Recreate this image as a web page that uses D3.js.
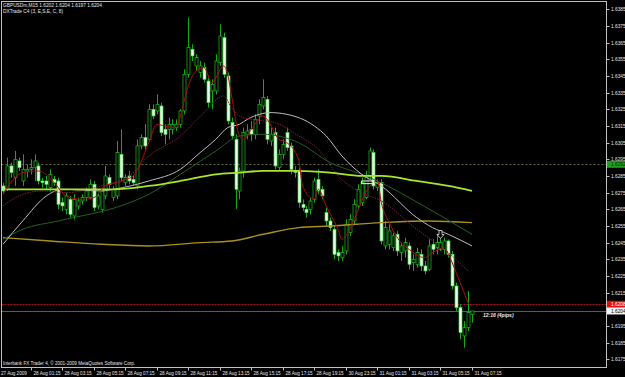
<!DOCTYPE html>
<html lang="en">
<head>
<meta charset="UTF-8">
<title>GBPUSDm,M15</title>
<style>
  body { margin: 0; background: #000; }
  svg { display: block; }
  text { font-family: "Liberation Sans", Arial, sans-serif; }
</style>
</head>
<body>
<svg id="chart" width="625" height="377"></svg>
<script src="https://d3js.org/d3.v7.min.js"></script>
<script>

// M15 bars
var opens = [1.6279,1.6277,1.6291,1.6284,1.6294,1.6282,1.6288,1.6289,1.6290,1.6291,
  1.6282,1.6282,1.6278,1.6283,1.6282,1.6269,1.6265,1.6271,1.6261,1.6267,
  1.6270,1.6272,1.6272,1.6280,1.6267,1.6265,1.6273,1.6284,1.6272,1.6273,
  1.6298,1.6281,1.6285,1.6283,1.6279,1.6303,1.6308,1.6307,1.6325,1.6324,
  1.6327,1.6313,1.6313,1.6313,1.6314,1.6316,1.6324,1.6346,1.6361,1.6351,
  1.6347,1.6350,1.6342,1.6336,1.6336,1.6353,1.6368,1.6345,1.6317,1.6307,
  1.6276,1.6288,1.6310,1.6313,1.6310,1.6321,1.6327,1.6331,1.6306,1.6311,
  1.6290,1.6298,1.6311,1.6303,1.6288,1.6288,1.6268,1.6265,1.6265,1.6271,
  1.6283,1.6277,1.6263,1.6258,1.6253,1.6239,1.6236,1.6240,1.6251,1.6258,
  1.6267,1.6269,1.6272,1.6285,1.6299,1.6278,1.6281,1.6243,1.6244,1.6242,
  1.6250,1.6239,1.6240,1.6243,1.6233,1.6232,1.6238,1.6231,1.6229,1.6244,
  1.6242,1.6241,1.6241,1.6246,1.6238,1.6219,1.6206,1.6189,1.6194,1.6202];
var highs = [1.6281,1.6296,1.6293,1.6300,1.6296,1.6298,1.6292,1.6295,1.6298,1.6293,
  1.6284,1.6285,1.6289,1.6285,1.6284,1.6272,1.6275,1.6273,1.6274,1.6272,
  1.6274,1.6278,1.6283,1.6282,1.6275,1.6278,1.6291,1.6286,1.6279,1.6306,
  1.6313,1.6286,1.6288,1.6285,1.6307,1.6310,1.6316,1.6328,1.6328,1.6334,
  1.6329,1.6316,1.6320,1.6319,1.6319,1.6325,1.6349,1.6380,1.6364,1.6358,
  1.6354,1.6353,1.6344,1.6343,1.6358,1.6376,1.6371,1.6347,1.6320,1.6310,
  1.6290,1.6314,1.6316,1.6318,1.6322,1.6331,1.6343,1.6333,1.6314,1.6314,
  1.6301,1.6307,1.6314,1.6305,1.6291,1.6290,1.6271,1.6267,1.6272,1.6284,
  1.6289,1.6279,1.6266,1.6260,1.6255,1.6241,1.6243,1.6259,1.6262,1.6271,
  1.6280,1.6284,1.6288,1.6302,1.6301,1.6283,1.6283,1.6258,1.6256,1.6251,
  1.6252,1.6245,1.6248,1.6245,1.6238,1.6242,1.6241,1.6234,1.6247,1.6247,
  1.6250,1.6251,1.6248,1.6247,1.6240,1.6221,1.6208,1.6198,1.6216,1.6204];
var lows = [1.6274,1.6276,1.6284,1.6279,1.6288,1.6279,1.6284,1.6286,1.6282,1.6280,
  1.6278,1.6277,1.6276,1.6279,1.6265,1.6264,1.6262,1.6260,1.6259,1.6265,
  1.6268,1.6270,1.6271,1.6264,1.6265,1.6263,1.6271,1.6277,1.6270,1.6271,
  1.6282,1.6279,1.6280,1.6279,1.6277,1.6301,1.6301,1.6306,1.6319,1.6322,
  1.6309,1.6304,1.6307,1.6310,1.6312,1.6314,1.6322,1.6344,1.6354,1.6348,
  1.6344,1.6341,1.6326,1.6325,1.6334,1.6351,1.6344,1.6316,1.6307,1.6265,
  1.6271,1.6284,1.6307,1.6306,1.6307,1.6316,1.6325,1.6304,1.6303,1.6289,
  1.6288,1.6295,1.6300,1.6286,1.6284,1.6266,1.6264,1.6260,1.6262,1.6269,
  1.6274,1.6271,1.6255,1.6252,1.6235,1.6234,1.6234,1.6238,1.6249,1.6256,
  1.6265,1.6267,1.6271,1.6283,1.6277,1.6276,1.6244,1.6241,1.6241,1.6240,
  1.6237,1.6234,1.6236,1.6229,1.6228,1.6230,1.6228,1.6226,1.6228,1.6238,
  1.6238,1.6240,1.6238,1.6236,1.6217,1.6204,1.6187,1.6182,1.6192,1.6197];
var closes = [1.6276,1.6291,1.6287,1.6295,1.6290,1.6289,1.6289,1.6290,1.6294,1.6282,
  1.6281,1.6280,1.6286,1.6281,1.6268,1.6267,1.6273,1.6262,1.6271,1.6270,
  1.6272,1.6276,1.6280,1.6266,1.6273,1.6276,1.6285,1.6280,1.6277,1.6299,
  1.6284,1.6284,1.6282,1.6281,1.6303,1.6308,1.6303,1.6325,1.6321,1.6328,
  1.6311,1.6310,1.6316,1.6316,1.6316,1.6324,1.6346,1.6362,1.6357,1.6356,
  1.6351,1.6343,1.6329,1.6340,1.6354,1.6369,1.6346,1.6318,1.6309,1.6277,
  1.6288,1.6311,1.6312,1.6310,1.6319,1.6328,1.6332,1.6307,1.6310,1.6291,
  1.6298,1.6304,1.6302,1.6289,1.6287,1.6269,1.6266,1.6263,1.6270,1.6282,
  1.6276,1.6273,1.6258,1.6254,1.6238,1.6237,1.6239,1.6256,1.6259,1.6268,
  1.6277,1.6281,1.6284,1.6300,1.6279,1.6281,1.6246,1.6254,1.6252,1.6249,
  1.6240,1.6243,1.6245,1.6232,1.6235,1.6239,1.6231,1.6228,1.6243,1.6241,
  1.6245,1.6245,1.6246,1.6238,1.6219,1.6206,1.6191,1.6194,1.6203,1.6204];

// moving averages, [bar, price] samples
var maFast = [[0,1.6274],[3,1.6284],[5,1.6287],[9,1.6288],[13,1.6281],[16,1.6273],[20,1.6271],[23,1.6272],
  [26,1.6279],[30,1.6282],[33,1.6285],[37,1.6305],[39,1.6316],[41,1.6315],[44,1.6314],[45,1.6321],
  [47,1.6339],[49,1.6348],[51,1.6350],[53,1.6341],[56,1.6351],[57,1.6346],[58,1.6333],[60,1.6309],
  [61,1.6307],[63,1.6313],[66,1.6321],[67,1.6319],[70,1.6307],[72,1.6305],[75,1.6295],[76,1.6279],
  [79,1.6271],[80,1.6277],[82,1.6267],[85,1.6253],[86,1.6247],[88,1.6253],[90,1.6264],[92,1.6275],
  [94,1.6281],[95,1.6282],[96,1.6269],[98,1.6257],[101,1.6245],[103,1.6241],[107,1.6236],[109,1.6239],
  [112,1.6242],[113,1.6238],[115,1.6227],[117,1.6215],[118,1.6209],[119,1.6207]];
var maSlow = [[0,1.6267],[4,1.6273],[10,1.6276],[16,1.6275],[25,1.6279],[31,1.6283],[37,1.6297],
  [45,1.6309],[51,1.6323],[56,1.6333],[58,1.6326],[60,1.6321],[63,1.6319],[69,1.6317],[75,1.6309],
  [80,1.6301],[85,1.6285],[91,1.6275],[96,1.6270],[105,1.6253],[113,1.6239],[118,1.6228]];
var maWhite = [[0,1.6244],[5,1.6258],[11,1.6273],[15,1.6277],[25,1.6276],[28,1.6277],[37,1.6282],
  [45,1.6289],[50,1.6299],[54,1.6307],[57,1.6314],[60,1.6316],[62,1.6319],[68,1.6323],[72,1.6322],
  [79,1.6315],[82,1.6309],[86,1.6297],[91,1.6286],[96,1.6279],[105,1.6260],[109,1.6254],[113,1.6250],[119,1.6243]];
var maGreen = [[0,1.6247],[5,1.6253],[14,1.6258],[31,1.6268],[37,1.6274],[45,1.6286],[54,1.6300],
  [60,1.6309],[66,1.6310],[75,1.6305],[83,1.6293],[91,1.6286],[95,1.6282],[106,1.6268],[119,1.6250]];
var maLong = [[0,1.6277],[14,1.6277],[28,1.6277],[37,1.6279],[45,1.6282],[54,1.6286],[60,1.6287],
  [66,1.6288],[75,1.6288],[83,1.6287],[91,1.6285],[96,1.6285],[105,1.6282],[113,1.6279],[119,1.6276]];
var maOlive = [[0,1.6248],[12,1.6246],[25,1.6244],[37,1.6243],[50,1.6245],[58,1.6246],[66,1.6250],
  [75,1.6254],[83,1.6255],[96,1.6257],[108,1.6258],[119,1.6257]];

var priceTicks = [1.6385,1.6375,1.6365,1.6355,1.6345,1.6335,1.6325,1.6315,1.6305,1.6295,1.6285,
  1.6275,1.6265,1.6255,1.6245,1.6235,1.6225,1.6215,1.6205,1.6195,1.6185,1.6175];
var timeTickBars = [0,7,15,23,31,39,47,55,63,71,79,87,95,103,111,119];
var timeTickLabels = ["27 Aug 2009","28 Aug 01:15","28 Aug 03:15","28 Aug 05:15","28 Aug 07:15",
  "28 Aug 09:15","28 Aug 11:15","28 Aug 13:15","28 Aug 15:15","28 Aug 17:15","28 Aug 19:15",
  "30 Aug 23:15","31 Aug 01:15","31 Aug 03:15","31 Aug 05:15","31 Aug 07:15"];

var levelPrices = [1.6292, 1.6208, 1.6204];
var levelLabels = ["1.6292", "1.6208", "1.6204"];

var svg = d3.select("#chart"),
    W = 625, H = 377,
    plotRight = 606.5, plotBottom = 367.5;

var x = d3.scaleLinear().domain([0, closes.length - 1]).range([3, 472]),
    y = d3.scaleLinear().domain([1.6175, 1.6385]).range([359.3, 9.3]);

svg.append("rect").attr("width", W).attr("height", H).attr("fill", "#000");

// horizontal price levels
var levelStyle = [
  {stroke: "#5f6a3c", dash: "2,2"},
  {stroke: "#a81414", dash: "2,1"},
  {stroke: "#5c5c5c", dash: null}
];
levelPrices.forEach(function (p, i) {
  svg.append("line")
    .attr("x1", 1.5).attr("x2", plotRight)
    .attr("y1", Math.round(y(p)) + 0.5).attr("y2", Math.round(y(p)) + 0.5)
    .attr("stroke", levelStyle[i].stroke)
    .attr("stroke-width", 1)
    .attr("stroke-dasharray", levelStyle[i].dash);
});

// candles
var bars = d3.range(closes.length);
var gC = svg.append("g");
gC.selectAll("line.wick").data(bars).enter().append("line")
  .attr("x1", function (i) { return Math.round(x(i)) + 0.5; })
  .attr("x2", function (i) { return Math.round(x(i)) + 0.5; })
  .attr("y1", function (i) { return y(highs[i]); })
  .attr("y2", function (i) { return y(lows[i]); })
  .attr("stroke", "#18a818").attr("stroke-width", 1);
gC.selectAll("rect.body").data(bars).enter().append("rect")
  .attr("x", function (i) { return Math.round(x(i)) - 1; })
  .attr("width", 3)
  .attr("y", function (i) { return y(Math.max(opens[i], closes[i])); })
  .attr("height", function (i) { return Math.max(1, Math.abs(y(opens[i]) - y(closes[i]))); })
  .attr("fill", function (i) { return closes[i] >= opens[i] ? "#000" : "#eaffea"; })
  .attr("stroke", function (i) { return closes[i] >= opens[i] ? "#1cc01c" : "#44d044"; })
  .attr("stroke-width", 0.7);

// moving averages
var line = d3.line()
  .x(function (d) { return x(d[0]); })
  .y(function (d) { return y(d[1]); })
  .curve(d3.curveMonotoneX);

function drawMa(data, color, width, dash) {
  svg.append("path").datum(data)
    .attr("d", line)
    .attr("fill", "none")
    .attr("stroke", color)
    .attr("stroke-width", width)
    .attr("stroke-dasharray", dash || null);
}
drawMa(maOlive, "#a89020", 1.4);
drawMa(maGreen, "#245f24", 1);
drawMa(maWhite, "#bcbcbc", 1);
drawMa(maSlow, "#7a2038", 1, "1.5,1");
drawMa(maLong, "#a8e628", 1.8);
drawMa(maFast, "#b00c0c", 1);

// white box and arrow objects
svg.append("rect")
  .attr("x", x(91)).attr("width", x(94) - x(91))
  .attr("y", y(1.6282)).attr("height", y(1.6281) - y(1.6282) + 1)
  .attr("fill", "none").attr("stroke", "#f0f0f0").attr("stroke-width", 1);
var ax = Math.round(x(111)) + 0.5, ay = Math.round(y(1.6251)) + 0.5;
svg.append("path")
  .attr("d", "M" + (ax - 1.5) + "," + (ay - 3) + "h3v4h2l-3.5,4l-3.5,-4h2z")
  .attr("fill", "#000").attr("stroke", "#e8e8e8").attr("stroke-width", 0.8);

// frame
svg.append("rect")
  .attr("x", 1.5).attr("y", 1.5)
  .attr("width", plotRight - 1.5).attr("height", plotBottom - 1.5)
  .attr("fill", "none").attr("stroke", "#c0c0c0").attr("stroke-width", 1);

// price axis
var gY = svg.append("g");
priceTicks.forEach(function (p) {
  var yy = Math.round(y(p)) + 0.5;
  gY.append("line").attr("x1", plotRight).attr("x2", plotRight + 3)
    .attr("y1", yy).attr("y2", yy).attr("stroke", "#c0c0c0");
  gY.append("text").attr("x", 611).attr("y", yy).attr("dy", "0.35em")
    .attr("fill", "#e6e6e6").attr("font-size", 4.8).text(p.toFixed(4));
});

var boxFill = ["#1ea01e", "#e01010", "#f4f4f4"],
    boxText = ["#102010", "#ffffff", "#000000"];
levelPrices.forEach(function (p, i) {
  var yy = y(p);
  gY.append("rect").attr("x", plotRight + 0.5).attr("y", yy - 3.5)
    .attr("width", W - plotRight).attr("height", 7).attr("fill", boxFill[i]);
  gY.append("text").attr("x", 611).attr("y", yy).attr("dy", "0.35em")
    .attr("fill", boxText[i]).attr("font-size", 4.8).text(levelLabels[i]);
});

// time axis
var gX = svg.append("g");
timeTickBars.forEach(function (b, i) {
  var xx = Math.round(x(b)) + 0.5;
  if (i > 0) {
    gX.append("line").attr("x1", xx).attr("x2", xx)
      .attr("y1", plotBottom).attr("y2", plotBottom + 3).attr("stroke", "#c0c0c0");
  }
  gX.append("text").attr("x", i === 0 ? 1 : xx + 2).attr("y", 374.5)
    .attr("fill", "#e6e6e6").attr("font-size", 4.6).text(timeTickLabels[i]);
});

// texts
svg.append("text").attr("x", 3).attr("y", 7).attr("fill", "#e6e6e6").attr("font-size", 4.8)
  .text("GBPUSDm,M15  " + opens[opens.length - 1].toFixed(4) + " " + highs[highs.length - 1].toFixed(4) + " " +
        lows[lows.length - 1].toFixed(4) + " " + closes[closes.length - 1].toFixed(4));
svg.append("text").attr("x", 3).attr("y", 12.5).attr("fill", "#e6e6e6").attr("font-size", 4.8)
  .text("DXTrade C4 (3, E,S,E, C, 8)");
svg.append("text").attr("x", 3).attr("y", 364.5).attr("fill", "#e6e6e6").attr("font-size", 4.6)
  .text("Interbank FX Trader 4, \u00a9 2001-2009 MetaQuotes Software Corp.");
svg.append("text").attr("x", x(119) + 11).attr("y", y(1.6204) + 6.5)
  .attr("fill", "#f0f0f0").attr("font-size", 5).attr("font-style", "italic").attr("font-weight", "bold")
  .text("12:16 (4pips)");

</script>
</body>
</html>
